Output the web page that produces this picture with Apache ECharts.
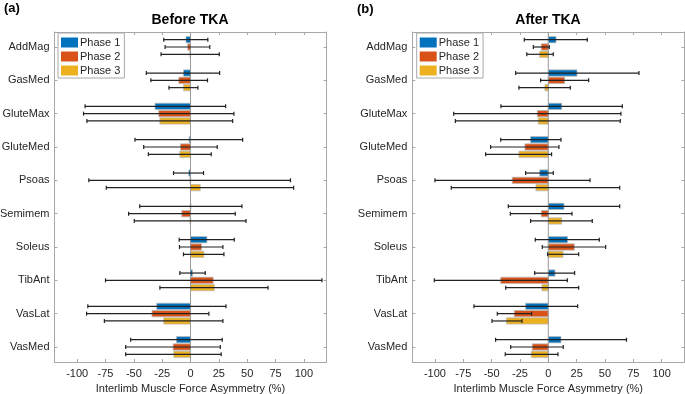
<!DOCTYPE html>
<html>
<head>
<meta charset="utf-8">
<script src="https://cdn.jsdelivr.net/npm/echarts@6/dist/echarts.min.js"></script>
<style>html,body{margin:0;padding:0;background:#fff}#c{width:685px;height:394px}</style>
</head>
<body>
<div id="c"></div>
<script>
const categories = ['AddMag','GasMed','GluteMax','GluteMed','Psoas','Semimem','Soleus','TibAnt','VasLat','VasMed'];
const xTicks = [-100,-75,-50,-25,0,25,50,75,100];
const phaseNames = ['Phase 1','Phase 2','Phase 3'];
const phaseColors = ['#0072BD','#D95319','#EDB120'];

// Before TKA
const beforeP1     = [-4, -6.2, -31.3, -1.2, -1.5, -0.3, 14.5, 1.8, -29.8, -12.4];
const beforeP1Low  = [-23.6, -39, -93, -49, -15, -44.8, -10, -9.4, -90.6, -52.8];
const beforeP1High = [15.3, 25.7, 31, 46, 11.5, 45.4, 38.6, 13, 31.3, 28];
const beforeP2     = [-2.4, -10.3, -28, -8.8, -0.5, -7.7, 9.7, 20, -34, -15.3];
const beforeP2Low  = [-22.4, -35, -94.4, -41.3, -89.7, -54.6, -9.7, -75, -91.7, -57.2];
const beforeP2High = [17, 15, 38.3, 23.6, 88.2, 39.5, 28.6, 116, 16.2, 26.3];
const beforeP3     = [-0.6, -6.2, -27, -9.4, 8.6, -0.5, 11.8, 21, -23.6, -14.7];
const beforeP3Low  = [-26, -19, -91.4, -37.2, -74.3, -49.6, -6.2, -27, -76, -57.2];
const beforeP3High = [25.4, 6.5, 37.2, 18.3, 91, 49, 29.5, 68.4, 28.6, 27.1];

// After TKA
const afterP1     = [6.8, 25.3, 11.8, -15.6, -7.6, 13.8, 17, 5.9, -20, 11.2];
const afterP1Low  = [-21.2, -28.8, -41.8, -42, -20, -35.3, -11.5, -12, -65.6, -46.5];
const afterP1High = [34.4, 80, 65.3, 11.2, 4.4, 63, 45, 23.2, 25.9, 69];
const afterP2     = [-6.2, 14.4, -9.7, -20.6, -31.8, -6.2, 23, -42, -30, -14.1];
const afterP2Low  = [-13.2, -6.8, -83.5, -50.9, -100, -33.5, -5.3, -100.6, -45, -33.2];
const afterP2High = [0.9, 35.6, 64.1, 9.4, 36.8, 20.9, 50.6, 16.8, -14.7, 13.2];
const afterP3     = [-7.6, -3, -8.8, -25.9, -10.9, 11.8, 13, -5.6, -36.8, -15];
const afterP3Low  = [-19, -25.9, -82, -55.3, -85.6, -15.6, -0.6, -37.6, -49.7, -38];
const afterP3High = [4.4, 19.4, 63.5, 2.9, 63, 38.8, 26.8, 26.8, -23.2, 8.5];

const FONT = '"Liberation Sans", Arial, sans-serif';
const TXT = '#262626';
const AX = '#a8a8a8';
const BAR_H = 6.3, STEP = 7.3;
const catPos = categories.map((c, i) => i + 1);

function barRender(offset) {
  return function (params, api) {
    const v = api.value(0), c = api.value(1);
    const p0 = api.coord([0, c]), p1 = api.coord([v, c]);
    return {
      type: 'rect',
      shape: { x: Math.min(p0[0], p1[0]), y: p0[1] + offset - BAR_H / 2, width: Math.max(Math.abs(p1[0] - p0[0]), 0.8), height: BAR_H },
      style: { fill: api.visual('color'), stroke: 'rgba(185,185,185,0.75)', lineWidth: 1 }
    };
  };
}
function errRender(offset) {
  return function (params, api) {
    const lo = api.coord([api.value(0), api.value(2)]);
    const hi = api.coord([api.value(1), api.value(2)]);
    const y = lo[1] + offset;
    const st = { stroke: '#222', lineWidth: 1.2 };
    return { type: 'group', children: [
      { type: 'line', shape: { x1: lo[0], y1: y, x2: hi[0], y2: y }, style: st },
      { type: 'line', shape: { x1: lo[0], y1: y - 2, x2: lo[0], y2: y + 2 }, style: st },
      { type: 'line', shape: { x1: hi[0], y1: y - 2, x2: hi[0], y2: y + 2 }, style: st }
    ]};
  };
}
function zeroRender(params, api) {
  const a = api.coord([0, 0.55]), b = api.coord([0, 10.45]);
  return { type: 'line', shape: { x1: a[0], y1: a[1], x2: b[0], y2: b[1] }, style: { stroke: '#9a9a9a', lineWidth: 1 } };
}

const panels = [
  { vals: [beforeP1, beforeP2, beforeP3], lows: [beforeP1Low, beforeP2Low, beforeP3Low], highs: [beforeP1High, beforeP2High, beforeP3High] },
  { vals: [afterP1, afterP2, afterP3], lows: [afterP1Low, afterP2Low, afterP3Low], highs: [afterP1High, afterP2High, afterP3High] }
];

const grids = [
  { left: 54.5, top: 32, width: 272, height: 330, containLabel: false, outerBoundsMode: 'none' },
  { left: 412.3, top: 32, width: 272, height: 330, containLabel: false, outerBoundsMode: 'none' }
];

const xAxes = [], yAxes = [], series = [];
grids.forEach((g, gi) => {
  xAxes.push({
    type: 'value', gridIndex: gi, min: -120, max: 120, position: 'bottom',
    axisLine: { show: true, onZero: false, lineStyle: { color: AX } },
    axisTick: { show: true, inside: true, length: 3, customValues: xTicks, lineStyle: { color: AX } },
    axisLabel: { show: true, customValues: xTicks, color: TXT, fontSize: 11, fontFamily: FONT, margin: 6 },
    splitLine: { show: false },
    name: 'Interlimb Muscle Force Asymmetry (%)', nameLocation: 'middle', nameGap: 19,
    nameTextStyle: { color: TXT, fontSize: 11, fontFamily: FONT }
  });
  xAxes.push({
    type: 'value', gridIndex: gi, min: -120, max: 120, position: 'top',
    axisLine: { show: true, onZero: false, lineStyle: { color: AX } },
    axisTick: { show: true, inside: true, length: 3, customValues: xTicks, lineStyle: { color: AX } },
    axisLabel: { show: false }, splitLine: { show: false }
  });
  yAxes.push({
    type: 'value', gridIndex: gi, min: 0.55, max: 10.45, inverse: true, position: 'left',
    axisLine: { show: true, onZero: false, lineStyle: { color: AX } },
    axisTick: { show: true, inside: true, length: 3, customValues: catPos, lineStyle: { color: AX } },
    axisLabel: { show: true, customValues: catPos, formatter: v => categories[Math.round(v) - 1], color: TXT, fontSize: 11, fontFamily: FONT, margin: 5 },
    splitLine: { show: false }
  });
  yAxes.push({
    type: 'value', gridIndex: gi, min: 0.55, max: 10.45, inverse: true, position: 'right',
    axisLine: { show: true, onZero: false, lineStyle: { color: AX } },
    axisTick: { show: true, inside: true, length: 3, customValues: catPos, lineStyle: { color: AX } },
    axisLabel: { show: false }, splitLine: { show: false }
  });
  const P = panels[gi];
  const xi = gi * 2, yi = gi * 2;
  for (let k = 0; k < 3; k++) {
    const off = (k - 1) * STEP;
    series.push({
      type: 'custom', name: phaseNames[k], xAxisIndex: xi, yAxisIndex: yi, z: 2,
      itemStyle: { color: phaseColors[k] },
      renderItem: barRender(off), encode: { x: 0, y: 1 },
      data: P.vals[k].map((v, i) => [v, catPos[i]])
    });
  }
  series.push({
    type: 'custom', name: 'zero' + gi, xAxisIndex: xi, yAxisIndex: yi, z: 3, silent: true,
    renderItem: zeroRender, data: [[0, 1]]
  });
  for (let k = 0; k < 3; k++) {
    const off = (k - 1) * STEP;
    series.push({
      type: 'custom', name: 'err' + gi + k, xAxisIndex: xi, yAxisIndex: yi, z: 4, silent: true,
      renderItem: errRender(off), encode: { x: [0, 1], y: 2 },
      data: P.lows[k].map((lo, i) => [lo, P.highs[k][i], catPos[i]])
    });
  }
});

const legendBase = {
  data: phaseNames, orient: 'vertical', top: 33, icon: 'rect',
  itemWidth: 17, itemHeight: 10, itemGap: 1, padding: [3, 4, 1, 3],
  borderColor: AX, borderWidth: 1, backgroundColor: '#fff',
  textStyle: { color: TXT, fontSize: 11, fontFamily: FONT, lineHeight: 13, padding: [0, 0, 0, -3] },
  selectedMode: false
};

const option = {
  animation: false,
  backgroundColor: '#fff',
  grid: grids,
  xAxis: xAxes,
  yAxis: yAxes,
  legend: [Object.assign({}, legendBase, { left: 58 }), Object.assign({}, legendBase, { left: 416.7 })],
  graphic: [
    { type: 'text', x: 4, y: 8, style: { text: '(a)', font: 'bold 13px ' + FONT, fill: '#000', verticalAlign: 'middle' } },
    { type: 'text', x: 357, y: 9, style: { text: '(b)', font: 'bold 13px ' + FONT, fill: '#000', verticalAlign: 'middle' } },
    { type: 'text', x: 190, y: 20, style: { text: 'Before TKA', font: 'bold 14px ' + FONT, fill: '#000', align: 'center', verticalAlign: 'middle' } },
    { type: 'text', x: 548, y: 20, style: { text: 'After TKA', font: 'bold 14px ' + FONT, fill: '#000', align: 'center', verticalAlign: 'middle' } }
  ],
  series: series
};

const chart = echarts.init(document.getElementById('c'), null, { renderer: 'canvas' });
chart.setOption(option);
</script>
</body>
</html>
